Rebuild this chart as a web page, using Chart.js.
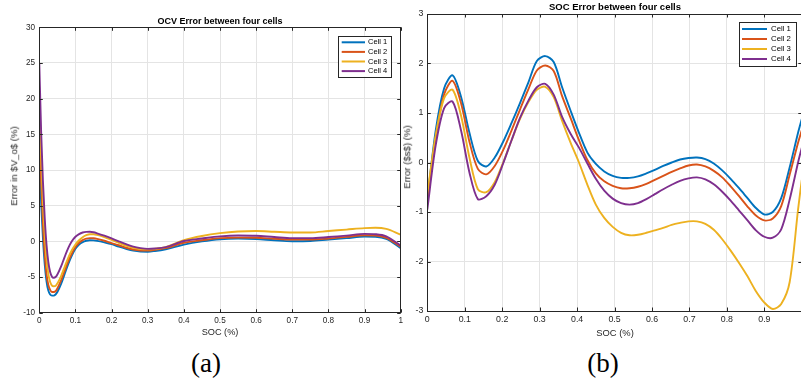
<!DOCTYPE html>
<html><head><meta charset="utf-8">
<script src="https://cdn.jsdelivr.net/npm/chart.js@4"></script>
<style>
html,body{margin:0;padding:0;}
body{width:801px;height:383px;overflow:hidden;background:#fff;position:relative;font-family:"Liberation Sans",Arial,Helvetica,sans-serif;}
.box{position:absolute;}
.t{position:absolute;white-space:nowrap;color:#000;line-height:1;transform:translate(-50%,-50%);}
.v{transform:translate(-50%,-50%) rotate(-90deg);color:#262626;}
.cap{font-family:"Liberation Serif","DejaVu Serif",serif;font-size:27px;}
</style></head><body>
<div class="box" style="left:0;top:0;width:410px;height:345px"><canvas id="c1" width="410" height="345"></canvas></div>
<div class="box" style="left:400px;top:0;width:412px;height:345px"><canvas id="c2" width="412" height="345"></canvas></div>
<div class="t" style="left:220px;top:21px;font-size:9px;font-weight:bold;">OCV Error between four cells</div>
<div class="t" style="left:615px;top:7px;font-size:9.5px;font-weight:bold;">SOC Error between four cells</div>
<div class="t" style="left:220px;top:333px;font-size:9.2px;color:#262626;">SOC (%)</div>
<div class="t" style="left:615px;top:333px;font-size:9.4px;color:#262626;">SOC (%)</div>
<div class="t v" style="left:14px;top:166px;font-size:9.6px;">Error in $V_o$ (%)</div>
<div class="t v" style="left:407px;top:157px;font-size:9.6px;">Error  ($s$) (%)</div>
<div class="t cap" style="left:206px;top:363px;">(a)</div>
<div class="t cap" style="left:603px;top:363px;">(b)</div>
<script>
// ---------- data ----------
const cellNames = ["Cell 1", "Cell 2", "Cell 3", "Cell 4"];
const cellColors = ["#0072BD", "#D95319", "#EDB120", "#7E2F8E"];

const ocvSoc = [0, 0.005, 0.01, 0.015, 0.02, 0.025, 0.03, 0.035, 0.04, 0.045, 0.05, 0.06, 0.07, 0.08, 0.09, 0.1, 0.11, 0.12, 0.13, 0.14, 0.15, 0.16, 0.18, 0.2, 0.22, 0.24, 0.26, 0.28, 0.3, 0.32, 0.35, 0.4, 0.45, 0.5, 0.55, 0.6, 0.65, 0.7, 0.75, 0.8, 0.85, 0.9, 0.93, 0.96, 1.0];
const ocvCell1 = [12, 5.5, 0.5, -3.2, -5.6, -6.9, -7.45, -7.6, -7.6, -7.45, -7.1, -6.0, -4.6, -3.2, -2.0, -1.05, -0.45, -0.1, 0.08, 0.15, 0.13, 0.06, -0.15, -0.4, -0.75, -1.05, -1.3, -1.43, -1.45, -1.35, -1.1, -0.45, 0.0, 0.3, 0.38, 0.33, 0.15, 0.02, 0.05, 0.25, 0.45, 0.68, 0.65, 0.35, -0.95];
const ocvCell2 = [17, 8.5, 2.5, -1.8, -4.6, -6.1, -6.8, -7.1, -7.1, -7.0, -6.6, -5.5, -4.15, -2.8, -1.7, -0.8, -0.2, 0.18, 0.38, 0.45, 0.43, 0.35, 0.08, -0.25, -0.55, -0.9, -1.15, -1.28, -1.3, -1.2, -0.95, -0.2, 0.15, 0.45, 0.52, 0.5, 0.35, 0.25, 0.25, 0.4, 0.62, 0.85, 0.82, 0.5, -0.75];
const ocvCell3 = [21, 12, 5.5, 1.0, -2.5, -4.6, -5.7, -6.2, -6.3, -6.25, -5.9, -4.9, -3.6, -2.3, -1.25, -0.45, 0.15, 0.58, 0.86, 1.0, 1.0, 0.9, 0.58, 0.2, -0.2, -0.6, -0.9, -1.08, -1.12, -1.05, -0.8, 0.15, 0.75, 1.15, 1.38, 1.45, 1.35, 1.25, 1.25, 1.45, 1.65, 1.85, 1.9, 1.75, 0.95];
const ocvCell4 = [25, 15.5, 8.5, 3.3, -0.5, -2.9, -4.3, -4.95, -5.1, -5.0, -4.65, -3.55, -2.2, -0.95, 0.0, 0.65, 1.02, 1.24, 1.33, 1.34, 1.27, 1.13, 0.8, 0.42, 0.0, -0.4, -0.75, -0.95, -1.05, -1.0, -0.8, 0.05, 0.4, 0.7, 0.82, 0.78, 0.6, 0.45, 0.45, 0.6, 0.8, 1.05, 1.0, 0.7, -0.6];

const socX = [0, 0.0225, 0.045, 0.0675, 0.09, 0.1125, 0.135, 0.1575, 0.18, 0.2025, 0.225, 0.2475, 0.27, 0.2925, 0.315, 0.3375, 0.36, 0.3825, 0.405, 0.4275, 0.45, 0.4725, 0.495, 0.5175, 0.54, 0.5625, 0.585, 0.6075, 0.63, 0.6525, 0.675, 0.6975, 0.72, 0.7425, 0.765, 0.7875, 0.81, 0.8325, 0.855, 0.8775, 0.9, 0.9225, 0.945, 0.9675, 0.99, 1.0];
const socCell1 = [-0.75, 0.65, 1.5, 1.76, 1.33, 0.6, 0.03, -0.08, 0.1, 0.42, 0.8, 1.2, 1.62, 2.05, 2.15, 2.03, 1.52, 1.05, 0.6, 0.2, -0.03, -0.18, -0.27, -0.31, -0.31, -0.28, -0.22, -0.15, -0.07, 0.0, 0.06, 0.09, 0.1, 0.07, -0.02, -0.16, -0.33, -0.52, -0.72, -0.92, -1.05, -1.0, -0.72, -0.1, 0.6, 0.88];
const socCell2 = [-0.8, 0.5, 1.38, 1.65, 1.2, 0.42, -0.13, -0.24, -0.07, 0.25, 0.65, 1.07, 1.48, 1.86, 1.96, 1.85, 1.34, 0.9, 0.45, 0.05, -0.22, -0.38, -0.47, -0.52, -0.52, -0.49, -0.43, -0.35, -0.27, -0.19, -0.12, -0.06, -0.04, -0.08, -0.17, -0.3, -0.48, -0.68, -0.89, -1.07, -1.17, -1.13, -0.88, -0.25, 0.4, 0.65];
const socCell3 = [-0.65, 0.55, 1.3, 1.47, 0.95, 0.1, -0.54, -0.6, -0.4, 0.0, 0.45, 0.88, 1.22, 1.47, 1.53, 1.32, 0.84, 0.4, 0.0, -0.45, -0.85, -1.12, -1.3, -1.42, -1.47, -1.46, -1.42, -1.37, -1.32, -1.26, -1.22, -1.19, -1.19, -1.24, -1.36, -1.55, -1.78, -2.03, -2.3, -2.6, -2.83, -2.96, -2.86, -2.42, -0.95, -0.35];
const socCell4 = [-0.95, 0.35, 1.1, 1.23, 0.65, -0.2, -0.74, -0.68, -0.45, -0.02, 0.45, 0.9, 1.25, 1.52, 1.59, 1.37, 0.92, 0.58, 0.3, -0.02, -0.33, -0.57, -0.73, -0.82, -0.85, -0.82, -0.74, -0.64, -0.54, -0.45, -0.37, -0.32, -0.3, -0.34, -0.44, -0.59, -0.77, -0.97, -1.17, -1.37, -1.5, -1.52, -1.35, -0.75, 0.0, 0.3];

// ---------- chart helpers ----------
const FONT = '"Liberation Sans", Arial, Helvetica, sans-serif';

const framePlugin = {
  id: 'frame',
  afterDraw(chart, args, o) {
    const {ctx, chartArea: a, scales} = chart;
    const x = scales.x, y = scales.y;
    ctx.save();
    ctx.strokeStyle = '#262626';
    ctx.lineWidth = 1;
    const L = o.tickLen;
    ctx.beginPath();
    x.ticks.forEach(t => {
      const px = Math.round(x.getPixelForValue(t.value)) + 0.5;
      ctx.moveTo(px, a.bottom); ctx.lineTo(px, a.bottom - L);
      ctx.moveTo(px, a.top); ctx.lineTo(px, a.top + L);
    });
    y.ticks.forEach(t => {
      const py = Math.round(y.getPixelForValue(t.value)) + 0.5;
      ctx.moveTo(a.left, py); ctx.lineTo(a.left + L, py);
      ctx.moveTo(a.right, py); ctx.lineTo(a.right - L, py);
    });
    ctx.stroke();
    ctx.strokeRect(Math.round(a.left) + 0.5, Math.round(a.top) + 0.5, Math.round(a.right - a.left), Math.round(a.bottom - a.top));
    // legend box
    const lg = o.legend;
    const bx = a.right - lg.right - lg.w, by = a.top + lg.top;
    ctx.fillStyle = '#fff';
    ctx.fillRect(bx, by, lg.w, lg.h);
    ctx.strokeStyle = '#262626';
    ctx.strokeRect(Math.round(bx) + 0.5, Math.round(by) + 0.5, Math.round(lg.w), Math.round(lg.h));
    ctx.font = lg.font + 'px ' + FONT;
    ctx.textBaseline = 'middle';
    ctx.textAlign = 'left';
    chart.data.datasets.forEach((ds, i) => {
      const ry = by + lg.row0 + i * lg.rowH;
      ctx.strokeStyle = ds.borderColor;
      ctx.lineWidth = 2;
      ctx.beginPath();
      ctx.moveTo(bx + lg.l0, ry); ctx.lineTo(bx + lg.l1, ry);
      ctx.stroke();
      ctx.fillStyle = '#000';
      ctx.fillText(ds.label, bx + lg.tx, ry);
    });
    ctx.restore();
  }
};

function makeDatasets(xs, series, mode, tension) {
  return series.map((ys, i) => ({
    label: cellNames[i],
    data: xs.map((v, k) => ({x: v, y: ys[k]})),
    borderColor: cellColors[i],
    backgroundColor: cellColors[i],
    borderWidth: 1.9,
    pointRadius: 0,
    fill: false,
    tension: tension,
    cubicInterpolationMode: mode,
    order: 4 - i
  }));
}

function makeChart(id, datasets, cfg) {
  return new Chart(document.getElementById(id), {
    type: 'line',
    data: {datasets},
    plugins: [framePlugin],
    options: {
      responsive: false,
      animation: false,
      devicePixelRatio: 1,
      layout: {padding: cfg.padding},
      plugins: {
        legend: {display: false},
        title: {display: false},
        tooltip: {enabled: false},
        frame: {tickLen: 3.5, legend: cfg.legend}
      },
      scales: {
        x: {
          type: 'linear', min: 0, max: 1,
          grid: {color: '#e4e4e4', lineWidth: 1, drawTicks: false},
          border: {display: false},
          ticks: {stepSize: 0.1, padding: cfg.xPad, color: '#262626', font: {family: FONT, size: cfg.tickFont},
                  maxRotation: 0, autoSkip: false,
                  callback: (v) => (cfg.hideLast && v === 1) ? '' : String(Math.round(v * 10) / 10)},
          afterFit: s => { s.height = cfg.xH; }
        },
        y: {
          type: 'linear', min: cfg.yMin, max: cfg.yMax,
          grid: {color: '#e4e4e4', lineWidth: 1, drawTicks: false},
          border: {display: false},
          ticks: {stepSize: cfg.yStep, padding: cfg.yPad, color: '#262626', font: {family: FONT, size: cfg.tickFont}},
          afterFit: s => { s.width = cfg.yW; }
        }
      }
    }
  });
}

makeChart('c1', makeDatasets(ocvSoc, [ocvCell1, ocvCell2, ocvCell3, ocvCell4], 'monotone', 0.4), {
  padding: {top: 27.3, right: 9.3, left: 0, bottom: 0},
  xH: 32.3, yW: 39.3, xPad: 3, yPad: 4.3, tickFont: 8.2,
  yMin: -10, yMax: 30, yStep: 5, hideLast: false,
  legend: {right: 10, top: 8.4, w: 52.7, h: 41, row0: 6.6, rowH: 9.6, l0: 3.7, l1: 27, tx: 30, font: 7.5}
});

makeChart('c2', makeDatasets(socX, [socCell1, socCell2, socCell3, socCell4], 'default', 0.3), {
  padding: {top: 14, right: 10.2, left: 0, bottom: 0},
  xH: 34, yW: 27.3, xPad: 3, yPad: 4, tickFont: 8.8,
  yMin: -3, yMax: 3, yStep: 1, hideLast: true,
  legend: {right: 6.1, top: 7.7, w: 56.7, h: 44, row0: 7.3, rowH: 10, l0: 3, l1: 28, tx: 32, font: 7.8}
});
</script>
</body></html>
